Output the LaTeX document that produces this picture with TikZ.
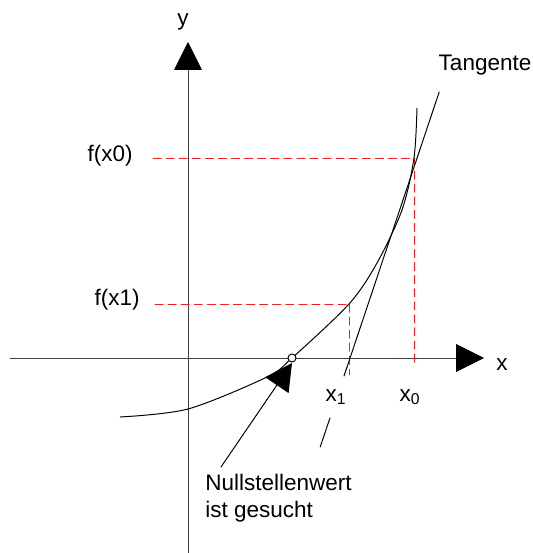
\documentclass[tikz,border=0pt]{standalone}
\usepackage{fontspec}
\setmainfont{Liberation Sans}
\usetikzlibrary{arrows.meta,calc}
\usepackage{tkz-euclide}
\definecolor{DashClr}{rgb}{0.93,0.12,0.12}
\definecolor{AxisClr}{rgb}{0.25,0.25,0.25}

\begin{document}
\begin{tikzpicture}[x=0.5cm,y=0.5cm,
  every node/.style={font=\fontsize{16}{19}\selectfont},
  bigtip/.style={-{Triangle[length=0.7cm,width=0.7cm,color=black]}},
  helpline/.style={DashClr,line width=0.7pt,dash pattern=on 5.7pt off 3.6pt}]
\tkzSetUpLine[line width=0.7pt,color=black]

\tkzDefPoints{-9.4/-9.75/BL,17.2/17.9/TR}
\useasboundingbox (BL) rectangle (TR);

% axes
\tkzDefPoints{-8.9/0/XL,14.8/0/XR,0/-9.75/YB,0/15.8/YT}
% points on the axes and on the curve
\tkzDefPoints{5.2/0/N,8.05/0/Xa,11.3/0/Xb,8.05/2.7/Pa,11.3/10/Pb}
\tkzDefPoints{-1.65/2.7/Fa,-1.75/10/Fb,8.05/-0.85/Xad,11.3/-0.35/Xbd}
\tkzDefPoints{-3.4/-2.95/C1,0/-2.55/C2,3.95/-0.95/C3,9.45/4.75/C4,10.7/7.4/C5,11.45/12.5/C6}
% tangent and leader
\tkzDefPoints{12.56/13.3/T1,7.8/-0.9/T2,7.1/-3.0/T3,6.61/-4.45/T4}
\tkzDefPoints{1.65/-5.45/L,5.2/-0.25/Ntip}

\tkzDrawSegment[bigtip,color=AxisClr](XL,XR)
\tkzDrawSegment[bigtip,color=AxisClr](YB,YT)

\tkzDrawSegment[helpline](Fb,Pb)
\tkzDrawSegment[helpline](Pb,Xbd)
\tkzDrawSegment[helpline](Fa,Pa)
\tkzDrawSegment[helpline](Pa,Xad)

\draw[line width=0.7pt] plot[smooth,tension=0.5] coordinates
  {(C1) (C2) (C3) (N) (Pa) (C4) (C5) (Pb) (C6)};

\tkzDrawSegment(T1,T2)
\tkzDrawSegment(T3,T4)
\tkzDrawSegment[-{Triangle[length=0.67cm,width=0.7cm]}](L,Ntip)

\draw[line width=0.7pt,fill=white] (N) circle (0.2);

\node (ylbl) at (-0.25,16.8) {y};
\node (xlbl) at (15.7,-0.35) {x};
\node[anchor=east,inner sep=0pt] (fxb) at (-2.75,10.1) {f(x0)};
\node[anchor=east,inner sep=0pt] (fxa) at (-2.4,2.9) {f(x1)};
\node (xa) at (7.4,-1.95) {x\textsubscript{1}};
\node (xb) at (11.1,-1.95) {x\textsubscript{0}};
\node (tang) at (14.85,14.65) {Tangente};
\node[anchor=north west,align=left,inner sep=0pt] (nst) at (0.85,-5.8)
  {Nullstellenwert\\ist gesucht};

\end{tikzpicture}
\end{document}
